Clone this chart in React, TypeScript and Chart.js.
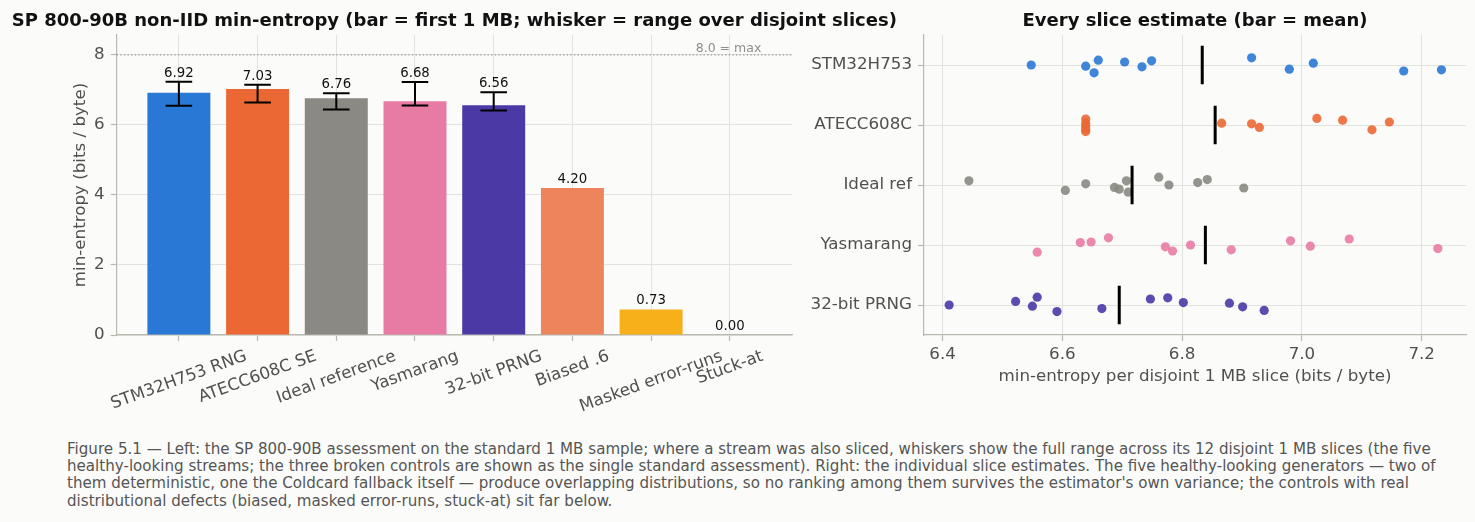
import React, { useEffect, useRef } from "react";
import { Chart, registerables } from "chart.js";

Chart.register(...registerables);

const FONT = "'DejaVu Sans', sans-serif";
const BG = "#fbfbf9";
const GRID = "#e2e2de";
const SPINE = "#b9b9b1";
const TICK = "#505050";
const TITLE = "#111111";

// ---------- Left panel data ----------
const BAR_LABELS = [
  "STM32H753 RNG",
  "ATECC608C SE",
  "Ideal reference",
  "Yasmarang",
  "32-bit PRNG",
  "Biased .6",
  "Masked error-runs",
  "Stuck-at",
];
const BAR_VALUES = [6.92, 7.03, 6.76, 6.68, 6.56, 4.2, 0.73, 0.0];
const BAR_COLORS = [
  "#2a78d6",
  "#eb6834",
  "#8a8984",
  "#e87ba4",
  "#4b39a6",
  "#ee845c",
  "#f8b01a",
  "#c0392b",
];
const LEFT_Y_TICKS = [0, 2, 4, 6, 8];
const MAX_LINE = 8.0;
const MAX_LABEL = "8.0 = max";
const MAX_LABEL_X = 7.4;
const LEFT_TITLE = "SP 800-90B non-IID min-entropy (bar = first 1 MB; whisker = range over disjoint slices)";
const LEFT_Y_TITLE = "min-entropy (bits / byte)";

// ---------- Right panel data ----------
const ROW_NAMES = ["STM32H753", "ATECC608C", "Ideal ref", "Yasmarang", "32-bit PRNG"];
const STM32_SLICES = [6.548, 6.639, 6.66, 6.653, 6.704, 6.733, 6.749, 6.916, 6.979, 7.019, 7.17, 7.233];
const STM32_JITTER = [0.0, 0.02, -0.08, 0.13, -0.05, 0.03, -0.07, -0.12, 0.07, -0.03, 0.1, 0.08];
const ATECC_SLICES = [6.639, 6.639, 6.639, 6.639, 6.639, 6.866, 6.916, 6.929, 7.025, 7.068, 7.117, 7.146];
const ATECC_JITTER = [-0.1, -0.03, 0.02, 0.07, 0.11, -0.03, -0.02, 0.04, -0.11, -0.08, 0.08, -0.05];
const IDEAL_SLICES = [6.444, 6.605, 6.639, 6.687, 6.695, 6.707, 6.71, 6.761, 6.778, 6.826, 6.842, 6.903];
const IDEAL_JITTER = [-0.07, 0.09, -0.02, 0.04, 0.07, -0.07, 0.12, -0.13, 0.0, -0.04, -0.09, 0.05];
const YASMA_SLICES = [6.558, 6.63, 6.648, 6.677, 6.772, 6.784, 6.814, 6.882, 6.981, 7.014, 7.079, 7.227];
const YASMA_JITTER = [0.12, -0.04, -0.05, -0.12, 0.03, 0.1, 0.0, 0.08, -0.07, 0.02, -0.1, 0.06];
const PRNG_SLICES = [6.411, 6.522, 6.55, 6.558, 6.591, 6.666, 6.747, 6.776, 6.802, 6.879, 6.901, 6.937];
const PRNG_JITTER = [0.0, -0.06, 0.02, -0.13, 0.11, 0.06, -0.1, -0.12, -0.04, -0.03, 0.03, 0.09];
const SLICES = [STM32_SLICES, ATECC_SLICES, IDEAL_SLICES, YASMA_SLICES, PRNG_SLICES];
const JITTERS = [STM32_JITTER, ATECC_JITTER, IDEAL_JITTER, YASMA_JITTER, PRNG_JITTER];
const RIGHT_X_TICKS = [6.4, 6.6, 6.8, 7.0, 7.2];
const RIGHT_TITLE = "Every slice estimate (bar = mean)";
const RIGHT_X_TITLE = "min-entropy per disjoint 1 MB slice (bits / byte)";

const CAPTION_LINES = [
  "Figure 5.1 \u2014 Left: the SP 800-90B assessment on the standard 1 MB sample; where a stream was also sliced, whiskers show the full range across its 12 disjoint 1 MB slices (the five",
  "healthy-looking streams; the three broken controls are shown as the single standard assessment). Right: the individual slice estimates. The five healthy-looking generators \u2014 two of",
  "them deterministic, one the Coldcard fallback itself \u2014 produce overlapping distributions, so no ranking among them survives the estimator's own variance; the controls with real",
  "distributional defects (biased, masked error-runs, stuck-at) sit far below.",
];

function hexAlpha(hex: string, a: number) {
  const r = parseInt(hex.slice(1, 3), 16);
  const g = parseInt(hex.slice(3, 5), 16);
  const b = parseInt(hex.slice(5, 7), 16);
  return `rgba(${r},${g},${b},${a})`;
}

const minOf = (a: number[]) => Math.min(...a);
const maxOf = (a: number[]) => Math.max(...a);
const meanOf = (a: number[]) => a.reduce((s, v) => s + v, 0) / a.length;

function titlePlugin(text: string) {
  return {
    id: "panelTitle",
    afterDraw(chart: any) {
      const { ctx, chartArea } = chart;
      ctx.save();
      ctx.font = `bold 18px ${FONT}`;
      ctx.fillStyle = TITLE;
      ctx.textAlign = "center";
      ctx.textBaseline = "alphabetic";
      ctx.fillText(text, (chartArea.left + chartArea.right) / 2, 25.5);
      ctx.restore();
    },
  };
}

const leftDecor = {
  id: "leftDecor",
  afterDatasetsDraw(chart: any) {
    const { ctx, chartArea } = chart;
    const x = chart.scales.x;
    const y = chart.scales.y;
    ctx.save();
    // max line
    const y8 = y.getPixelForValue(MAX_LINE);
    ctx.strokeStyle = "#9a9a9a";
    ctx.lineWidth = 1.2;
    ctx.setLineDash([1.4, 2.2]);
    ctx.beginPath();
    ctx.moveTo(chartArea.left, y8);
    ctx.lineTo(chartArea.right, y8);
    ctx.stroke();
    ctx.setLineDash([]);
    ctx.font = `12.5px ${FONT}`;
    ctx.fillStyle = "#8e8e8e";
    ctx.textAlign = "right";
    ctx.textBaseline = "alphabetic";
    ctx.fillText(MAX_LABEL, x.getPixelForValue(MAX_LABEL_X), y8 - 2.5);

    // whiskers + value labels
    BAR_VALUES.forEach((v, i) => {
      const px = x.getPixelForValue(i);
      let top = v;
      if (i < SLICES.length) {
        const lo = minOf(SLICES[i]);
        const hi = maxOf(SLICES[i]);
        top = Math.max(v, hi);
        const yl = y.getPixelForValue(lo);
        const yh = y.getPixelForValue(hi);
        ctx.strokeStyle = "#000";
        ctx.lineWidth = 2;
        ctx.beginPath();
        ctx.moveTo(px, yl);
        ctx.lineTo(px, yh);
        ctx.moveTo(px - 13.3, yh);
        ctx.lineTo(px + 13.3, yh);
        ctx.moveTo(px - 13.3, yl);
        ctx.lineTo(px + 13.3, yl);
        ctx.stroke();
      }
      ctx.font = `13.3px ${FONT}`;
      ctx.fillStyle = TITLE;
      ctx.textAlign = "center";
      ctx.textBaseline = "alphabetic";
      ctx.fillText(v.toFixed(2), px, y.getPixelForValue(top) - 5);
    });

    // rotated category labels (centred on tick)
    const f = 16.7;
    ctx.font = `${f}px ${FONT}`;
    ctx.fillStyle = TICK;
    const th = (20 * Math.PI) / 180;
    BAR_LABELS.forEach((lab, i) => {
      const px = x.getPixelForValue(i);
      const w = ctx.measureText(lab).width;
      const h = 1.164 * f;
      const H = w * Math.sin(th) + h * Math.cos(th);
      const cy = chartArea.bottom + 11.7 + H / 2;
      ctx.save();
      ctx.translate(px, cy);
      ctx.rotate(-th);
      ctx.textAlign = "center";
      ctx.textBaseline = "middle";
      ctx.fillText(lab, 0, 0);
      ctx.restore();
    });
    ctx.restore();
  },
};

function LeftChart() {
  const ref = useRef<HTMLCanvasElement>(null);
  useEffect(() => {
    const chart = new Chart(ref.current as HTMLCanvasElement, {
      type: "bar",
      data: {
        datasets: [
          {
            data: BAR_VALUES.map((v, i) => ({ x: i, y: v })),
            backgroundColor: BAR_COLORS,
            borderWidth: 0,
            barPercentage: 0.8,
            categoryPercentage: 1.0,
          },
        ],
      },
      options: {
        animation: false,
        responsive: false,
        layout: { padding: { top: 35, left: 0, right: 118, bottom: 0 } },
        plugins: { legend: { display: false }, tooltip: { enabled: false }, title: { display: false } },
        scales: {
          x: {
            type: "linear",
            min: -0.79,
            max: 7.79,
            offset: false,
            afterBuildTicks: (s: any) => {
              s.ticks = BAR_LABELS.map((_, i) => ({ value: i }));
            },
            afterFit: (s: any) => {
              s.height = 95;
            },
            grid: { color: GRID, lineWidth: 1, offset: false, drawTicks: true, tickLength: 6, tickColor: SPINE, tickWidth: 1.2 },
            border: { display: true, color: SPINE, width: 1.2 },
            ticks: { display: false },
          },
          y: {
            type: "linear",
            min: 0,
            max: 8.57,
            afterBuildTicks: (s: any) => {
              s.ticks = LEFT_Y_TICKS.map((v) => ({ value: v }));
            },
            afterFit: (s: any) => {
              s.width = 116.7;
            },
            grid: { color: GRID, lineWidth: 1, drawTicks: true, tickLength: 6, tickColor: SPINE, tickWidth: 1.2 },
            border: { display: true, color: SPINE, width: 1.2 },
            ticks: { color: TICK, font: { family: FONT, size: 16.7 }, padding: 6, callback: (v: any) => String(v) },
            title: {
              display: true,
              text: LEFT_Y_TITLE,
              color: TICK,
              font: { family: FONT, size: 16.7 },
              padding: { top: 70.5, bottom: 0 },
            },
          },
        },
      } as any,
      plugins: [leftDecor, titlePlugin(LEFT_TITLE)],
    });
    return () => chart.destroy();
  }, []);
  return (
    <canvas
      ref={ref}
      width={910}
      height={430}
      style={{ position: "absolute", left: 0, top: 0, width: 910, height: 430 }}
    />
  );
}

function RightChart() {
  const ref = useRef<HTMLCanvasElement>(null);
  useEffect(() => {
    const meanSets = SLICES.map((s, i) => {
      const m = meanOf(s);
      return {
        type: "line",
        data: [
          { x: m, y: i - 0.32 },
          { x: m, y: i + 0.32 },
        ],
        borderColor: "#000",
        borderWidth: 3,
        pointRadius: 0,
        showLine: true,
        fill: false,
        order: 0,
      };
    });
    const pointSets = SLICES.map((s, i) => ({
      type: "scatter",
      data: s.map((v, k) => ({ x: v, y: i + JITTERS[i][k] })),
      backgroundColor: hexAlpha(BAR_COLORS[i], 0.9),
      borderWidth: 0,
      pointRadius: 4.6,
      order: 1,
    }));
    const chart = new Chart(ref.current as HTMLCanvasElement, {
      type: "scatter",
      data: { datasets: [...meanSets, ...pointSets] as any },
      options: {
        animation: false,
        responsive: false,
        layout: { padding: { top: 35, left: 0, right: 9, bottom: 0 } },
        plugins: { legend: { display: false }, tooltip: { enabled: false }, title: { display: false } },
        scales: {
          x: {
            type: "linear",
            min: 6.369,
            max: 7.274,
            afterBuildTicks: (s: any) => {
              s.ticks = RIGHT_X_TICKS.map((v) => ({ value: v }));
            },
            afterFit: (s: any) => {
              s.height = 95;
            },
            grid: { color: GRID, lineWidth: 1, drawTicks: true, tickLength: 6, tickColor: SPINE, tickWidth: 1.2 },
            border: { display: true, color: SPINE, width: 1.2 },
            ticks: {
              color: TICK,
              font: { family: FONT, size: 16.7 },
              padding: 4,
              maxRotation: 0,
              callback: (v: any) => Number(v).toFixed(1),
            },
            title: {
              display: true,
              text: RIGHT_X_TITLE,
              color: TICK,
              font: { family: FONT, size: 16.7 },
              padding: { top: 0, bottom: 43 },
            },
          },
          y: {
            type: "linear",
            min: -0.5,
            max: 4.5,
            reverse: true,
            afterBuildTicks: (s: any) => {
              s.ticks = ROW_NAMES.map((_, i) => ({ value: i }));
            },
            afterFit: (s: any) => {
              s.width = 134;
            },
            grid: { color: GRID, lineWidth: 1, drawTicks: true, tickLength: 6, tickColor: SPINE, tickWidth: 1.2 },
            border: { display: true, color: SPINE, width: 1.2 },
            ticks: {
              color: TICK,
              font: { family: FONT, size: 16.7 },
              padding: 6,
              callback: (v: any) => ROW_NAMES[Math.round(Number(v))] ?? "",
            },
          },
        },
      } as any,
      plugins: [titlePlugin(RIGHT_TITLE)],
    });
    return () => chart.destroy();
  }, []);
  return (
    <canvas
      ref={ref}
      width={685}
      height={430}
      style={{ position: "absolute", left: 790, top: 0, width: 685, height: 430 }}
    />
  );
}

export default function App() {
  return (
    <div
      style={{
        position: "fixed",
        left: 0,
        top: 0,
        width: 1475,
        height: 522,
        background: BG,
        overflow: "hidden",
      }}
    >
      <LeftChart />
      <RightChart />
      <div
        style={{
          position: "absolute",
          left: 67,
          top: 440.5,
          fontFamily: FONT,
          fontSize: 15.1,
          lineHeight: "17.4px",
          color: "#555555",
          whiteSpace: "pre",
        }}
      >
        {CAPTION_LINES.map((l, i) => (
          <div key={i}>{l}</div>
        ))}
      </div>
    </div>
  );
}
